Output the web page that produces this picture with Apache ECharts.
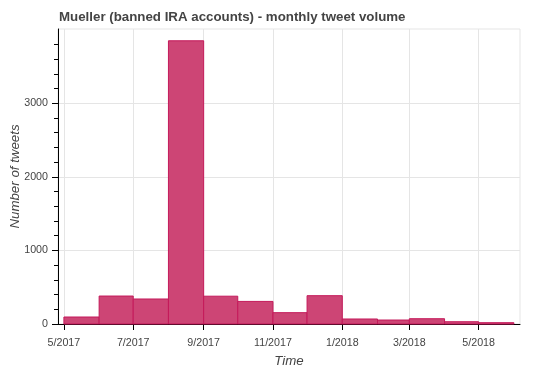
<!DOCTYPE html>
<html>
<head>
<meta charset="utf-8">
<script src="https://cdn.jsdelivr.net/npm/echarts@6/dist/echarts.min.js"></script>
<style>html,body{margin:0;padding:0;background:#fff;}#c{width:550px;height:370px;}</style>
</head>
<body>
<div id="c"></div>
<script>
// Monthly bins (start month of each bin)
var binMonths = ['2017-05','2017-06','2017-07','2017-08','2017-09','2017-10','2017-11','2017-12','2018-01','2018-02','2018-03','2018-04','2018-05'];
// Tweet counts per month
var tweetCounts = [95, 380, 340, 3850, 378, 307, 154, 385, 68, 54, 72, 31, 18];
// X tick labels (month/year)
var xTickLabels = ['5/2017','7/2017','9/2017','11/2017','1/2018','3/2018','5/2018'];
// Y tick labels
var yTickValues = [0, 1000, 2000, 3000];

function monthStart(ym) { var p = ym.split('-'); return new Date(+p[0], +p[1] - 1, 1).getTime(); }
function nextMonth(ym) { var p = ym.split('-'); return new Date(+p[0], +p[1], 1).getTime(); }
function labelToTime(l) { var p = l.split('/'); return new Date(+p[1], +p[0] - 1, 1).getTime(); }

var barData = binMonths.map(function (m, i) { return [monthStart(m), nextMonth(m), tweetCounts[i]]; });
var xTicks = xTickLabels.map(labelToTime);

var DAY = 86400000;
var xMin = monthStart('2017-05') - 5.2 * DAY;
var xMax = nextMonth('2018-05') + 5.4 * DAY;

var chart = echarts.init(document.getElementById('c'), null, { renderer: 'canvas' });
var font = 'Helvetica, "Liberation Sans", Arial, sans-serif';
chart.setOption({
  animation: false,
  backgroundColor: '#fff',
  title: {
    text: 'Mueller (banned IRA accounts) - monthly tweet volume',
    left: 54, top: 6,
    textStyle: { fontFamily: font, fontSize: 13.3, fontWeight: 'bold', color: '#444444' }
  },
  grid: { left: 58, right: 30, top: 29, bottom: 46, outerBoundsMode: 'none', containLabel: false, show: true, borderColor: '#e5e5e5', borderWidth: 1, backgroundColor: 'transparent' },
  xAxis: {
    type: 'value', min: xMin, max: xMax, scale: true,
    name: 'Time', nameLocation: 'middle', nameGap: 31, nameMoveOverlap: false,
    nameTextStyle: { fontFamily: font, fontSize: 13.3, fontStyle: 'italic', color: '#444444' },
    axisLine: { show: true, onZero: false, lineStyle: { color: '#000', width: 1 } },
    axisTick: { show: true, length: 6, lineStyle: { color: '#000' }, customValues: xTicks },
    minorTick: { show: false },
    axisLabel: {
      customValues: xTicks, margin: 14, fontFamily: font, fontSize: 10.7, color: '#444444',
      formatter: function (v) { var d = new Date(v); return (d.getMonth() + 1) + '/' + d.getFullYear(); },
      hideOverlap: false
    },
    splitLine: { show: true, lineStyle: { color: '#e5e5e5', width: 1 } }
  },
  yAxis: {
    type: 'value', min: 0, max: 4010,
    name: 'Number of tweets', nameLocation: 'middle', nameGap: 36, nameMoveOverlap: false,
    nameTextStyle: { fontFamily: font, fontSize: 13.3, fontStyle: 'italic', color: '#444444' },
    axisLine: { show: true, onZero: false, lineStyle: { color: '#000', width: 1 } },
    axisTick: { show: true, length: 6, lineStyle: { color: '#000' }, customValues: yTickValues },
    minorTick: { show: true, splitNumber: 5, length: 4, lineStyle: { color: '#000' } },
    axisLabel: { customValues: yTickValues, margin: 10, fontFamily: font, fontSize: 10.7, color: '#444444',
      formatter: function (v) { return String(v); } },
    splitLine: { show: true, lineStyle: { color: '#e5e5e5', width: 1 } },
    interval: 1000
  },
  series: [{
    type: 'custom',
    data: barData,
    encode: { x: [0, 1], y: 2 },
    renderItem: function (params, api) {
      var p0 = api.coord([api.value(0), api.value(2)]);
      var p1 = api.coord([api.value(1), 0]);
      return {
        type: 'rect',
        shape: { x: p0[0], y: p0[1], width: p1[0] - p0[0], height: p1[1] - p0[1] },
        style: { fill: '#cd4575', stroke: '#c4195a', lineWidth: 1 }
      };
    }
  }]
});
</script>
</body>
</html>
